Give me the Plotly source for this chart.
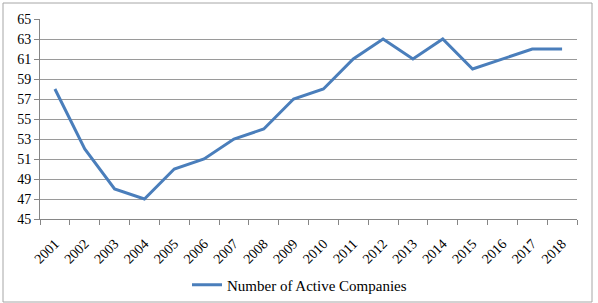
import plotly.graph_objects as go

years = ["2001", "2002", "2003", "2004", "2005", "2006", "2007", "2008", "2009",
         "2010", "2011", "2012", "2013", "2014", "2015", "2016", "2017", "2018"]
active_companies = [58, 52, 48, 47, 50, 51, 53, 54, 57, 58, 61, 63, 61, 63, 60, 61, 62, 62]
y_ticks = list(range(45, 66, 2))

FONT = "Liberation Serif"

fig = go.Figure()
fig.add_trace(go.Scatter(
    x=years, y=active_companies, mode="lines",
    name="Number of Active Companies",
    line=dict(color="#4A7EBB", width=3),
))

W, H = 598, 303
L, R, T, B = 40, 21, 19, 84
pw, ph = W - L - R, H - T - B

fig.update_layout(
    width=W, height=H,
    margin=dict(l=L, r=R, t=T, b=B, autoexpand=False),
    paper_bgcolor="white", plot_bgcolor="white",
    font=dict(family=FONT, size=14, color="black"),
    showlegend=True,
    legend=dict(orientation="h", x=0.5 - 9 / pw, xanchor="center", y=(219 - 285) / ph,
                yanchor="middle",
                font=dict(size=15, family=FONT, color="black"), bgcolor="rgba(0,0,0,0)"),
    xaxis=dict(type="category", range=[-0.5, len(years) - 0.5], tickson="boundaries",
               ticks="outside", ticklen=5, automargin=False,
               tickcolor="#868686", showline=True, linecolor="#868686", linewidth=1,
               showgrid=False, tickangle=-45, ticklabelstandoff=10,
               tickfont=dict(size=14, family=FONT, color="black")),
    yaxis=dict(range=[45, 65], tickvals=y_ticks, ticks="outside", ticklen=5,
               automargin=False,
               tickcolor="#868686", showline=True, linecolor="#868686", linewidth=1,
               showgrid=True, gridcolor="#9A9A9A", gridwidth=1, zeroline=False,
               tickfont=dict(size=14, family=FONT, color="black")),
    shapes=[dict(type="rect", xref="paper", yref="paper",
                 x0=(3 - L) / pw, x1=(592 - L) / pw,
                 y0=(219 - 302) / ph, y1=(219 - 3) / ph,
                 line=dict(color="#A6A6A6", width=1), fillcolor="rgba(0,0,0,0)",
                 layer="below")],
)

fig.write_html("out.html")
